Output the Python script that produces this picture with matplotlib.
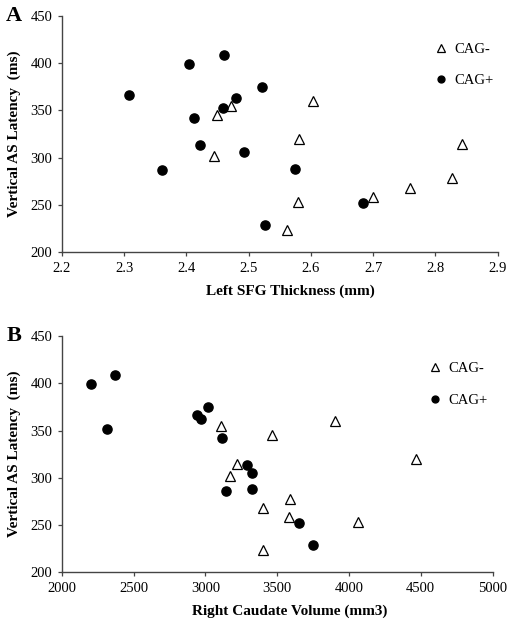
import numpy as np
import matplotlib
matplotlib.use('Agg')
import matplotlib.pyplot as plt

# CAG- subjects (open triangles)
neg_latency = [355, 345, 360, 320, 314.5, 302, 278, 268, 258, 253.5, 224]
neg_sfg = [2.472, 2.449, 2.604, 2.581, 2.842, 2.445, 2.827, 2.759, 2.700, 2.579, 2.562]
neg_caudate = [3105, 3465, 3899, 4468, 3217, 3170, 3586, 3398, 3584, 4064, 3402]

# CAG+ subjects (filled circles)
pos_latency = [366, 399, 408.5, 374.5, 362.5, 352, 342, 313, 286.5, 305.5, 288.5, 228.7, 251.8]
pos_sfg = [2.308, 2.404, 2.460, 2.521, 2.480, 2.459, 2.412, 2.422, 2.361, 2.493, 2.574, 2.527, 2.684]
pos_caudate = [2938, 2204, 2372, 3019, 2971, 2311, 3117, 3291, 3140, 3326, 3324, 3746, 3653]

y_ticks = [200, 250, 300, 350, 400, 450]
sfg_ticks = [2.2, 2.3, 2.4, 2.5, 2.6, 2.7, 2.8, 2.9]
caudate_ticks = [2000, 2500, 3000, 3500, 4000, 4500, 5000]

plt.rcParams['font.family'] = ['Liberation Serif', 'DejaVu Serif']

fig = plt.figure(figsize=(5.12, 6.25), dpi=100)
ax_a = fig.add_axes([0.121, 0.5963, 0.851, 0.3787])
ax_b = fig.add_axes([0.121, 0.0843, 0.841, 0.3781])

spine_col = '#444444'


def draw_panel(ax, xneg, xpos, xticks, xlabel, letter, leg_anchor, xlabel_x):
    ax.plot(xneg, neg_latency, linestyle='none', marker='^', markersize=7,
            markerfacecolor='white', markeredgecolor='black', markeredgewidth=0.9,
            label='CAG-', zorder=3)
    ax.plot(xpos, pos_latency, linestyle='none', marker='o', markersize=6.6,
            markerfacecolor='black', markeredgecolor='black',
            label='CAG+', zorder=3)
    ax.set_xlim(xticks[0], xticks[-1])
    ax.set_ylim(200, 450)
    ax.set_xticks(xticks)
    ax.set_yticks(y_ticks)
    if isinstance(xticks[0], float):
        ax.set_xticklabels([f'{t:.1f}' for t in xticks])
    for s in ['top', 'right']:
        ax.spines[s].set_visible(False)
    for s in ['left', 'bottom']:
        ax.spines[s].set_color(spine_col)
        ax.spines[s].set_linewidth(1.0)
    ax.tick_params(axis='both', direction='out', length=3, width=0.9,
                   color=spine_col, labelsize=10.5, pad=4)
    ax.set_xlabel(xlabel, fontsize=11, fontweight='bold', labelpad=9)
    ax.xaxis.set_label_coords(xlabel_x, -0.135)
    ax.set_ylabel('Vertical AS Latency  (ms)', fontsize=11, fontweight='bold', labelpad=7)
    ax.legend(loc='upper left', bbox_to_anchor=leg_anchor, frameon=False,
              fontsize=10.5, markerscale=0.75, labelspacing=1.25,
              handletextpad=0.4, handlelength=1.0, borderaxespad=0)
    ax.text(-0.128, 1.0, letter, transform=ax.transAxes, fontsize=16,
            fontweight='bold', va='center', ha='left')


draw_panel(ax_a, neg_sfg, pos_sfg, sfg_ticks, 'Left SFG Thickness (mm)', 'A',
           (0.84, 0.91), 0.525)
draw_panel(ax_b, neg_caudate, pos_caudate, caudate_ticks, 'Right Caudate Volume (mm3)', 'B',
           (0.837, 0.914), 0.529)

fig.savefig('out.png', dpi=100)
